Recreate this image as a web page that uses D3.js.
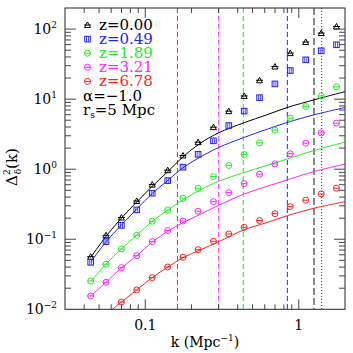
<!DOCTYPE html>
<html>
<head>
<script src="https://cdn.jsdelivr.net/npm/d3@7"></script>
<style>
  body { margin: 0; background: #fff; }
  text { font-family: "DejaVu Serif", serif; fill: #000; }
</style>
</head>
<body>
<svg width="353" height="353"></svg>
<script>
// redshift series
var redshifts = ["0.00", "0.49", "1.89", "3.21", "6.78"];
var colors = ["#000000", "#2222ff", "#22ee22", "#ff22ff", "#ff2222"];
var symbols = ["triangle", "square", "circle", "circle", "circle"];

// measured points
var kData = [0.0441, 0.0555, 0.0699, 0.0880, 0.111, 0.140, 0.176, 0.221, 0.278,
             0.350, 0.441, 0.555, 0.699, 0.880, 1.11, 1.40, 1.76];
var pz000 = [0.0564, 0.114, 0.204, 0.352, 0.603, 0.968, 1.57, 2.43, 3.98, 6.74,
             11.1, 18.6, 29.2, 45.4, 65.4, 87.7, 109];
var pz049 = [0.0469, 0.0924, 0.158, 0.262, 0.454, 0.687, 1.07, 1.63, 2.54, 4.20,
             6.74, 10.5, 16.5, 25.6, 36.4, 49.0, 59.7];
var pz189 = [0.0254, 0.0440, 0.0727, 0.114, 0.181, 0.262, 0.385, 0.535, 0.784, 1.13,
             1.62, 2.38, 3.61, 5.35, 7.84, 11.1, 15.0];
var pz321 = [0.0155, 0.0243, 0.0393, 0.0583, 0.0924, 0.133, 0.182, 0.251, 0.344, 0.463,
             0.622, 0.849, 1.19, 1.66, 2.35, 3.30, 4.54];
var pz678 = [null, null, 0.0127, 0.0189, 0.0283, 0.0402, 0.0553, 0.0710, 0.0936, 0.119,
             0.148, 0.185, 0.232, 0.292, 0.361, 0.444, 0.535];

// model curves
var kModel = [0.0441, 0.0555, 0.0699, 0.0880, 0.111, 0.140, 0.176, 0.227, 0.30, 0.438,
              0.62, 0.842, 1.256, 2.0];
var mz000 = [0.055, 0.11, 0.20, 0.34, 0.57, 0.92, 1.50, 2.33, 3.3, 4.59, 5.98, 7.6, 9.77, 12.8];
var mz049 = [0.047, 0.092, 0.16, 0.27, 0.45, 0.69, 1.05, 1.48, 2.04, 2.83, 3.71, 4.65, 5.97, 7.59];
var mz189 = [0.025, 0.044, 0.073, 0.114, 0.18, 0.26, 0.364, 0.505, 0.67, 0.894, 1.13, 1.40, 1.85, 2.43];
var mz321 = [0.0155, 0.0243, 0.039, 0.058, 0.091, 0.13, 0.172, 0.226, 0.304, 0.44, 0.568, 0.703, 0.925, 1.18];
var mz678 = [null, 0.0085, 0.0127, 0.0189, 0.0283, 0.040, 0.0545, 0.070, 0.092, 0.136, 0.173, 0.217, 0.277, 0.344];

// vertical cut lines
var kCut = [0.162, 0.301, 0.435, 0.842, 1.256, 1.41];
var cutColors = ["#ff2222", "#ff22ff", "#22ee22", "#2222ff", "#888888", "#000000"];
var cutDash = ["5,3", "5,3", "5,3", "5,3", "7,3", "1,2"];
var cutWidth = [1, 1, 1, 1, 2, 0.8];

var xTickLabels = ["0.1", "1"];
var yTickExp = ["\u22122", "\u22121", "0", "1", "2"];

var points = [pz000, pz049, pz189, pz321, pz678];
var models = [mz000, mz049, mz189, mz321, mz678];

var padL = 65, padR = 345, padT = 8, padB = 309.3;

var x = d3.scaleLog().domain([0.03, 2]).range([padL, padR]);
var y = d3.scaleLog().domain([0.01, 200]).range([padB, padT]);

var svg = d3.select("svg");

svg.append("defs").append("clipPath").attr("id", "plot")
  .append("rect").attr("x", padL).attr("y", padT)
  .attr("width", padR - padL).attr("height", padB - padT);

var plot = svg.append("g").attr("clip-path", "url(#plot)");

// cut lines
plot.selectAll("line.cut")
  .data(kCut)
  .enter().append("line")
  .attr("class", "cut")
  .attr("x1", function(d) { return x(d); })
  .attr("x2", function(d) { return x(d); })
  .attr("y1", padT).attr("y2", padB)
  .attr("stroke", function(d, i) { return cutColors[i]; })
  .attr("stroke-width", function(d, i) { return cutWidth[i]; })
  .attr("stroke-dasharray", function(d, i) { return cutDash[i]; });

// model lines
var line = d3.line()
  .defined(function(d) { return d.v != null; })
  .x(function(d) { return x(d.k); })
  .y(function(d) { return y(d.v); })
  .curve(d3.curveCatmullRom.alpha(0.5));

models.forEach(function(m, s) {
  var rows = kModel.map(function(k, i) { return { k: k, v: m[i] }; });
  plot.append("path")
    .attr("d", line(rows))
    .attr("fill", "none")
    .attr("stroke", colors[s])
    .attr("stroke-width", 1);
});

function drawSymbol(g, type, cx, cy, col) {
  if (type == "triangle") {
    g.append("path")
      .attr("d", "M" + (cx - 3) + "," + (cy + 2.5) + "L" + cx + "," + (cy - 3) +
                 "L" + (cx + 3) + "," + (cy + 2.5) + "Z")
      .attr("fill", "none").attr("stroke", col).attr("stroke-width", 1);
    g.append("line")
      .attr("x1", cx - 3.5).attr("x2", cx + 3.5).attr("y1", cy).attr("y2", cy)
      .attr("stroke", col).attr("stroke-width", 1);
  } else if (type == "square") {
    g.append("rect")
      .attr("x", cx - 2.8).attr("y", cy - 2.8).attr("width", 5.6).attr("height", 5.6)
      .attr("fill", "none").attr("stroke", col).attr("stroke-width", 1);
    g.append("line")
      .attr("x1", cx - 1).attr("x2", cx - 1).attr("y1", cy - 2.8).attr("y2", cy + 2.8)
      .attr("stroke", col).attr("stroke-width", 0.8);
    g.append("line")
      .attr("x1", cx + 1).attr("x2", cx + 1).attr("y1", cy - 2.8).attr("y2", cy + 2.8)
      .attr("stroke", col).attr("stroke-width", 0.8);
  } else {
    g.append("circle")
      .attr("cx", cx).attr("cy", cy).attr("r", 3)
      .attr("fill", "none").attr("stroke", col).attr("stroke-width", 1);
    g.append("line")
      .attr("x1", cx - 3).attr("x2", cx + 3).attr("y1", cy).attr("y2", cy)
      .attr("stroke", col).attr("stroke-width", 1);
  }
}

// data points
points.forEach(function(p, s) {
  var g = plot.append("g");
  kData.forEach(function(k, i) {
    if (p[i] == null) return;
    drawSymbol(g, symbols[s], x(k), y(p[i]), colors[s]);
  });
});

// frame
svg.append("rect")
  .attr("x", padL).attr("y", padT)
  .attr("width", padR - padL).attr("height", padB - padT)
  .attr("fill", "none").attr("stroke", "#222").attr("stroke-width", 1);

function isMajor(v) {
  var l = Math.log10(v);
  return Math.abs(l - Math.round(l)) < 1e-6;
}

var axes = svg.append("g").attr("stroke", "#444").attr("stroke-width", 1);

x.ticks().forEach(function(v) {
  var px = x(v);
  if (px <= padL + 0.5 || px >= padR - 0.5) return;
  var len = isMajor(v) ? 10 : 5;
  axes.append("line").attr("x1", px).attr("x2", px).attr("y1", padB).attr("y2", padB - len);
  axes.append("line").attr("x1", px).attr("x2", px).attr("y1", padT).attr("y2", padT + len);
});

y.ticks().forEach(function(v) {
  var py = y(v);
  if (py <= padT + 0.5 || py >= padB - 0.5) return;
  var len = isMajor(v) ? 11 : 6;
  axes.append("line").attr("x1", padL).attr("x2", padL + len).attr("y1", py).attr("y2", py);
  axes.append("line").attr("x1", padR).attr("x2", padR - len).attr("y1", py).attr("y2", py);
});

// x tick labels
[0.1, 1].forEach(function(v, i) {
  svg.append("text")
    .attr("x", x(v)).attr("y", padB + 21)
    .attr("text-anchor", "middle")
    .attr("font-size", 14)
    .text(xTickLabels[i]);
});

// y tick labels
[0.01, 0.1, 1, 10, 100].forEach(function(v, i) {
  var t = svg.append("text")
    .attr("x", 57).attr("y", y(v) + 5)
    .attr("text-anchor", "end")
    .attr("font-size", 14);
  t.append("tspan").text("10");
  t.append("tspan").attr("dy", -6).attr("font-size", 9).text(yTickExp[i]);
});

// axis titles
var xt = svg.append("text")
  .attr("x", 205).attr("y", 347)
  .attr("text-anchor", "middle")
  .attr("font-size", 14);
xt.append("tspan").text("k (Mpc");
xt.append("tspan").attr("dy", -6).attr("font-size", 9).text("\u22121");
xt.append("tspan").attr("dy", 6).text(")");

var yt = svg.append("text")
  .attr("transform", "translate(17,167) rotate(-90)")
  .attr("text-anchor", "middle")
  .attr("font-size", 15);
yt.append("tspan").text("\u0394");
yt.append("tspan").attr("dy", -7).attr("font-size", 9).text("2");
yt.append("tspan").attr("dx", -5).attr("dy", 11).attr("font-size", 9).text("\u03b4");
yt.append("tspan").attr("dy", -4).text("(k)");

// legend
var legend = svg.append("g");
redshifts.forEach(function(z, i) {
  var ly = 25 + i * 14.1;
  drawSymbol(legend, symbols[i], 87.5, ly, colors[i]);
  legend.append("text")
    .attr("x", 99).attr("y", ly + 5)
    .attr("font-size", 15)
    .style("fill", colors[i])
    .text("z=" + z);
});
legend.append("text")
  .attr("x", 83).attr("y", 25 + 5 * 14.1 + 5)
  .attr("font-size", 15)
  .text("\u03b1=\u22121.0");
var rs = legend.append("text")
  .attr("x", 83).attr("y", 25 + 6 * 14.1 + 5)
  .attr("font-size", 15);
rs.append("tspan").text("r");
rs.append("tspan").attr("dy", 3).attr("font-size", 9).text("s");
rs.append("tspan").attr("dy", -3).text("=5 Mpc");
</script>
</body>
</html>
